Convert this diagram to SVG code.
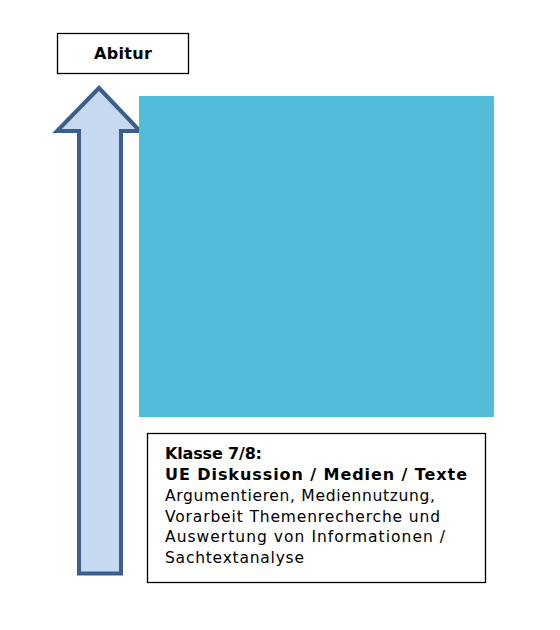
<svg xmlns="http://www.w3.org/2000/svg" width="560" height="630" viewBox="0 0 560 630">
<style>
.box{fill:#ffffff;stroke:#000000;stroke-width:1.3}
.t{font-family:"DejaVu Sans","Verdana",sans-serif;font-size:15.5px;fill:#000000}
.b{font-weight:bold;font-size:16px}
</style>
<rect width="560" height="630" fill="#ffffff"/>
<g id="connectors">
<polygon points="79,573.5 121,573.5 121,131 140,131 99,88 57,131 79,131" fill="#C6D9F1" stroke="#3B5E8C" stroke-width="4" stroke-linejoin="miter"/>
</g>
<g id="abitur">
<rect class="box" x="57.5" y="33.5" width="131" height="40"/>
<text class="t b" x="94" y="59" textLength="58" lengthAdjust="spacing">Abitur</text>
</g>
<g id="bluebox">
<rect x="139" y="96" width="355" height="321" fill="#52BDD9"/>
</g>
<g id="klasse78">
<rect class="box" x="147.5" y="433.5" width="338" height="149"/>
<text class="t b" x="165" y="459" textLength="97" lengthAdjust="spacing">Klasse 7/8:</text>
<text class="t b" x="165" y="480" textLength="302" lengthAdjust="spacing">UE Diskussion / Medien / Texte</text>
<text class="t" x="165" y="501" textLength="270" lengthAdjust="spacing">Argumentieren, Mediennutzung,</text>
<text class="t" x="165" y="521.5" textLength="275" lengthAdjust="spacing">Vorarbeit Themenrecherche und</text>
<text class="t" x="165" y="542" textLength="280" lengthAdjust="spacing">Auswertung von Informationen /</text>
<text class="t" x="165" y="562.5" textLength="139" lengthAdjust="spacing">Sachtextanalyse</text>
</g>
</svg>
